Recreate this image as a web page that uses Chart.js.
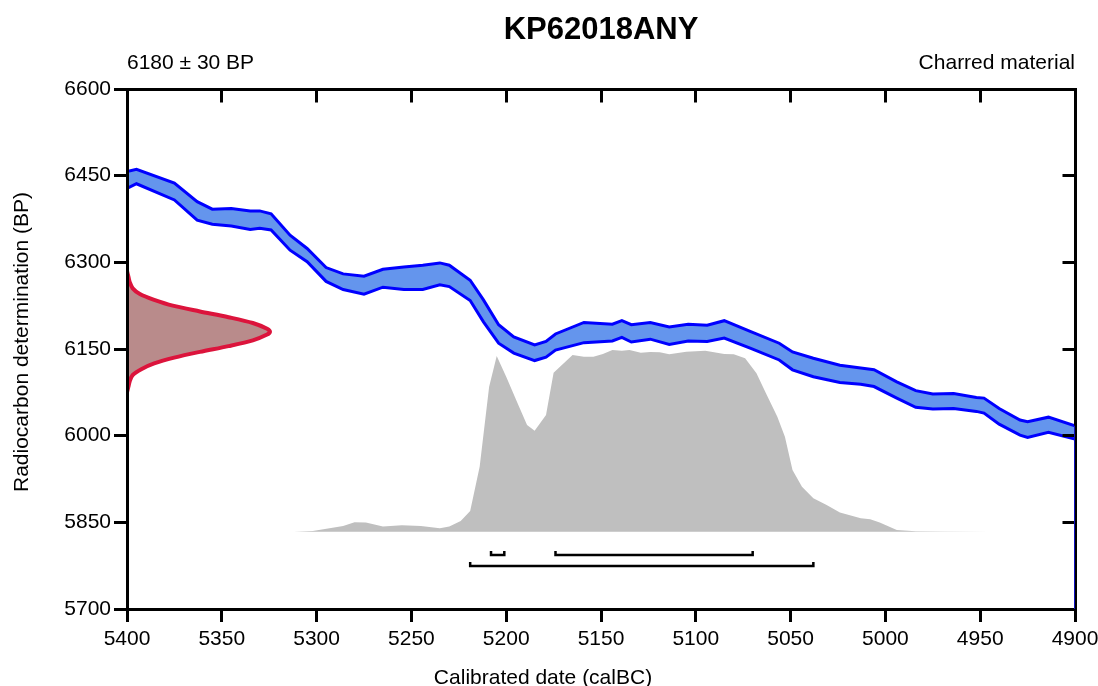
<!DOCTYPE html>
<html>
<head>
<meta charset="utf-8">
<script src="https://cdn.jsdelivr.net/npm/chart.js@4/dist/chart.umd.min.js"></script>
<style>
  html, body { margin: 0; padding: 0; background: #ffffff; }
  #wrap { width: 1098px; height: 686px; position: relative; }
</style>
</head>
<body>
<div id="wrap"><canvas id="c" width="1098" height="686"></canvas></div>
<script>
// ---------------- DATA ----------------
const titleText = 'KP62018ANY';
const leftSubtitle = '6180 ± 30 BP';
const rightSubtitle = 'Charred material';
const xAxisTitle = 'Calibrated date (calBC)';
const yAxisTitle = 'Radiocarbon determination (BP)';

const xTickValues = [5400, 5350, 5300, 5250, 5200, 5150, 5100, 5050, 5000, 4950, 4900];
const yTickValues = [5700, 5850, 6000, 6150, 6300, 6450, 6600];

// Calibration curve (1-sigma band), calBC
const calYears = [4900,4914,4925,4929,4940,4948,4952,4964,4975,4984,4994,5006,5013,5024,5038,5049,5056,5071,5085,5094,5104,5114,5124,5134,5139,5144,5159,5174,5179,5185,5196,5204,5212,5219,5230,5235,5244,5254,5265,5275,5286,5295,5305,5314,5324,5330,5335,5345,5355,5363,5375,5395,5400];
const curveUpperBP = [6017,6032,6024,6027,6047,6065,6066,6073,6072,6078,6093,6114,6117,6122,6134,6145,6160,6180,6199,6191,6193,6188,6196,6192,6199,6193,6196,6176,6163,6157,6171,6192,6235,6269,6295,6299,6295,6292,6288,6276,6280,6291,6324,6347,6384,6389,6389,6393,6392,6405,6437,6461,6457];
const curveLowerBP = [5994,6006,5997,6001,6020,6039,6042,6047,6046,6049,6065,6085,6089,6092,6102,6114,6131,6151,6169,6163,6164,6158,6167,6162,6170,6164,6161,6148,6136,6130,6143,6160,6197,6234,6258,6261,6253,6253,6257,6245,6253,6267,6301,6321,6356,6359,6357,6363,6366,6373,6408,6436,6428];

// Radiocarbon measurement distribution (relative density vs BP)
const measBP      = [6075,6085,6095,6105,6115,6125,6135,6145,6155,6165,6175,6180,6185,6195,6205,6215,6225,6235,6245,6255,6265,6275,6285];
const measDensity = [0.00,0.01,0.02,0.04,0.10,0.19,0.33,0.51,0.71,0.88,0.98,1.00,0.98,0.88,0.71,0.51,0.32,0.19,0.09,0.04,0.02,0.01,0.00];

// Calibrated (posterior) distribution, relative probability vs calBC
const postYears = [4945,4970,4984,4994,5003,5008,5013,5024,5031,5038,5044,5049,5053,5057,5063,5068,5074,5080,5085,5095,5105,5114,5119,5124,5129,5135,5139,5144,5149,5154,5159,5165,5175,5179,5185,5189,5194,5200,5205,5209,5214,5219,5224,5230,5235,5245,5255,5265,5274,5280,5286,5302,5312];
const postProb  = [0.000,0.001,0.002,0.009,0.050,0.068,0.074,0.105,0.147,0.184,0.248,0.340,0.523,0.633,0.762,0.872,0.954,0.976,0.978,0.996,0.991,0.976,0.987,0.989,0.985,1.000,0.996,1.000,0.978,0.963,0.963,0.972,0.875,0.642,0.556,0.587,0.707,0.853,0.967,0.798,0.358,0.114,0.059,0.028,0.019,0.031,0.035,0.028,0.050,0.052,0.031,0.004,0.000];

// Highest probability ranges (calBC)
const range68 = [[5208, 5201], [5174, 5070]];
const range95 = [[5219, 5038]];

// ---------------- BUILD ----------------
const FONT = "'Liberation Sans', Arial, Helvetica, sans-serif";
const pts = (xs, ys) => xs.map((x, i) => ({ x: x, y: ys[i] }));

// bracket rows on the probability axis (0 = distribution baseline)
const ROW68 = -0.128, ROW95 = -0.189, BRACKET_TICK = 0.022;
function bracket(r, row) {
  return [
    { x: r[0], y: row + BRACKET_TICK }, { x: r[0], y: row },
    { x: r[1], y: row }, { x: r[1], y: row + BRACKET_TICK }
  ];
}

const lastYear = calYears[0];
const datasets = [
  // 0: closing edge of curve band on right axis (drawn last)
  { data: [{ x: lastYear, y: curveUpperBP[0] }, { x: lastYear, y: yTickValues[0] }],
    borderColor: '#1010c0', borderWidth: 2, pointRadius: 0, fill: false, xAxisID: 'x', yAxisID: 'y' },
  // 1: curve upper
  { data: pts(calYears, curveUpperBP), borderColor: '#0000ff', borderWidth: 3, pointRadius: 0,
    backgroundColor: '#6495ed', fill: '+1', xAxisID: 'x', yAxisID: 'y', tension: 0 },
  // 2: curve lower
  { data: pts(calYears, curveLowerBP), borderColor: '#0000ff', borderWidth: 3, pointRadius: 0,
    fill: false, xAxisID: 'x', yAxisID: 'y', tension: 0 },
  // 3: measurement gaussian
  { data: measBP.map((b, i) => ({ x: measDensity[i], y: b })), indexAxis: 'y',
    borderColor: '#dc143c', borderWidth: 4, pointRadius: 0, backgroundColor: '#b98b8b',
    fill: 'origin', xAxisID: 'xProb', yAxisID: 'y', tension: 0.3 },
  // 4: gaussian closing edge
  { data: [{ x: 0, y: measBP[0] }, { x: 0, y: measBP[measBP.length - 1] }],
    borderColor: '#dc143c', borderWidth: 4, pointRadius: 0, fill: false, xAxisID: 'xProb', yAxisID: 'y' },
  // 5-7: ranges
  ...range68.map(r => ({ data: bracket(r, ROW68), borderColor: '#000', borderWidth: 2.5, pointRadius: 0,
    fill: false, xAxisID: 'x', yAxisID: 'yProb', borderJoinStyle: 'miter' })),
  ...range95.map(r => ({ data: bracket(r, ROW95), borderColor: '#000', borderWidth: 2.5, pointRadius: 0,
    fill: false, xAxisID: 'x', yAxisID: 'yProb', borderJoinStyle: 'miter' })),
  // last: calibrated distribution
  { data: pts(postYears, postProb), borderWidth: 0, borderColor: 'rgba(0,0,0,0)', pointRadius: 0,
    backgroundColor: '#bfbfbf', fill: 'origin', xAxisID: 'x', yAxisID: 'yProb', tension: 0 }
];

function alignPx(p, w) { return Math.round(p - w / 2) + w / 2; }

const framePlugin = {
  id: 'frame',
  beforeDatasetDraw(chart, args) {
    if (args.index !== 0) return;
    const { ctx, chartArea: a, scales } = chart;
    ctx.save();
    ctx.strokeStyle = '#000';
    ctx.lineWidth = 3;
    ctx.lineJoin = 'miter';
    const L = alignPx(a.left, 3), R = alignPx(a.right, 3), T = alignPx(a.top, 3), B = alignPx(a.bottom, 3);
    ctx.beginPath();
    ctx.rect(L, T, R - L, B - T);
    ctx.stroke();
    ctx.beginPath();
    xTickValues.forEach(v => {
      const px = alignPx(scales.x.getPixelForValue(v), 3);
      ctx.moveTo(px, T); ctx.lineTo(px, T + 13);
    });
    yTickValues.forEach(v => {
      const py = alignPx(scales.y.getPixelForValue(v), 3);
      ctx.moveTo(R, py); ctx.lineTo(R - 13, py);
    });
    ctx.stroke();
    ctx.restore();
  },
  afterDraw(chart) {
    const { ctx, chartArea: a } = chart;
    ctx.save();
    ctx.fillStyle = '#000';
    ctx.textBaseline = 'alphabetic';
    ctx.font = 'bold 31px ' + FONT;
    ctx.textAlign = 'center';
    ctx.fillText(titleText, (a.left + a.right) / 2, 39);
    ctx.font = '21px ' + FONT;
    ctx.textAlign = 'left';
    ctx.fillText(leftSubtitle, a.left, 69);
    ctx.textAlign = 'right';
    ctx.fillText(rightSubtitle, a.right, 69);
    ctx.textAlign = 'center';
    ctx.fillText(xAxisTitle, 543, 684);
    ctx.translate(28, 342);
    ctx.rotate(-Math.PI / 2);
    ctx.fillText(yAxisTitle, 0, 0);
    ctx.restore();
  }
};

const axisCommon = {
  grid: { drawOnChartArea: false, drawTicks: true, tickLength: 13, tickWidth: 3, tickColor: '#000' },
  border: { display: true, color: '#000', width: 3 },
};

new Chart(document.getElementById('c'), {
  type: 'line',
  data: { datasets: datasets },
  options: {
    responsive: false,
    animation: false,
    devicePixelRatio: 1,
    events: [],
    layout: { padding: { left: 0, right: 23, top: 89, bottom: 0 } },
    plugins: {
      legend: { display: false },
      tooltip: { enabled: false },
      filler: { drawTime: 'beforeDatasetsDraw', propagate: false }
    },
    elements: { line: { tension: 0 } },
    scales: {
      x: {
        type: 'linear', position: 'bottom', reverse: true,
        min: xTickValues[xTickValues.length - 1], max: xTickValues[0],
        ...axisCommon,
        afterBuildTicks: s => { s.ticks = xTickValues.map(v => ({ value: v })); },
        afterFit: s => { s.height = 77; s.paddingLeft = 0; s.paddingRight = 0; },
        ticks: { color: '#000', font: { family: FONT, size: 21 }, padding: 5, maxRotation: 0, autoSkip: false,
                 callback: v => String(v) }
      },
      y: {
        type: 'linear', position: 'left',
        min: yTickValues[0], max: yTickValues[yTickValues.length - 1],
        ...axisCommon,
        afterBuildTicks: s => { s.ticks = yTickValues.map(v => ({ value: v })); },
        afterFit: s => { s.width = 127; s.paddingTop = 0; s.paddingBottom = 0; },
        ticks: { color: '#000', font: { family: FONT, size: 21 }, padding: 3, autoSkip: false,
                 callback: v => String(v) }
      },
      xProb: { type: 'linear', display: false, position: 'bottom', min: 0, max: 6.63 },
      yProb: { type: 'linear', display: false, position: 'left', min: -0.4254, max: 2.4364 }
    }
  },
  plugins: [framePlugin]
});
</script>
</body>
</html>
